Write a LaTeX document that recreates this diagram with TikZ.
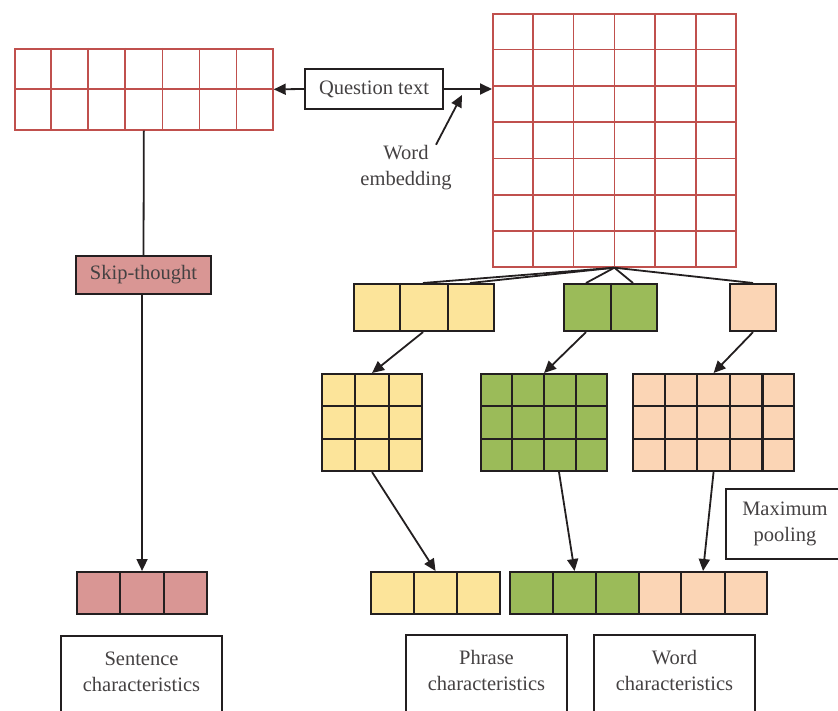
\documentclass[tikz,border=0pt]{standalone}
\usepackage{fontspec}
\setmainfont{Liberation Serif}
\usetikzlibrary{arrows.meta}
\usetikzlibrary{calc}

\definecolor{gridred}{HTML}{C0504D}
\definecolor{lineblack}{HTML}{231F20}
\definecolor{skippink}{HTML}{D99694}
\definecolor{phryellow}{HTML}{FCE49A}
\definecolor{wrdgreen}{HTML}{9BBB59}
\definecolor{wrdpeach}{HTML}{FBD5B5}

% inner lines of a block: node, columns, rows, line style
\newcommand{\gridin}[4]{%
  \ifnum#2>1 \foreach \i in {2,...,#2}{\draw[#4] ($(#1.north west)!{(\i-1)/#2}!(#1.north east)$) -- ($(#1.south west)!{(\i-1)/#2}!(#1.south east)$);}\fi
  \ifnum#3>1 \foreach \j in {2,...,#3}{\draw[#4] ($(#1.north west)!{(\j-1)/#3}!(#1.south west)$) -- ($(#1.north east)!{(\j-1)/#3}!(#1.south east)$);}\fi
}

\begin{document}
\begin{tikzpicture}[x=1pt,y=-1pt,
  embbox/.style={draw=gridred,line width=1.7pt,inner sep=0pt,anchor=north west},
  cellbox/.style={draw=lineblack,line width=2.1pt,inner sep=0pt,anchor=north west},
  textbox/.style={draw=lineblack,line width=1.9pt,inner sep=0pt,align=center,text=lineblack!85,font=\fontsize{20.5}{26}\selectfont},
  link/.style={lineblack,line width=1.8pt},
  arr/.style={link,-{Triangle[length=12pt,width=11pt]}}]
        \useasboundingbox (0,0) rectangle (838,711);
        \clip (0,0) rectangle (838,711);

        % embeddings
        \node[embbox,minimum width=258,minimum height=81] (embL) at (14,48) {};
        \node[embbox,minimum width=243,minimum height=253] (embR) at (492,13) {};
        \gridin{embL}{7}{2}{gridred,line width=1.7pt}
        \gridin{embR}{6}{7}{gridred,line width=1.7pt}
        \node[textbox,minimum width=138,minimum height=40] (question) at (374,89) {Question text};
        \node[textbox,draw=none] (wordemb) at (406,168) {Word\\embedding};
        \coordinate (embtip) at (462,95);

        % sentence branch
        \node[textbox,fill=skippink,minimum width=135,minimum height=38] (skip) at (143.5,275) {Skip-thought};
        \node[cellbox,fill=skippink,minimum width=130,minimum height=42] (sentvec) at (76,571) {};
        \gridin{sentvec}{3}{1}{lineblack,line width=2.1pt}

        % convolution windows
        \node[cellbox,fill=phryellow,minimum width=140,minimum height=47] (y1) at (353,283) {};
        \node[cellbox,fill=wrdgreen,minimum width=93,minimum height=47] (g1) at (563,283) {};
        \node[cellbox,fill=wrdpeach,minimum width=46,minimum height=47] (p1) at (729,283) {};
        \gridin{y1}{3}{1}{lineblack,line width=2.1pt}
        \gridin{g1}{2}{1}{lineblack,line width=2.1pt}

        % feature maps
        \node[cellbox,fill=phryellow,minimum width=100,minimum height=97] (y2) at (321,373) {};
        \node[cellbox,fill=wrdgreen,minimum width=126,minimum height=97] (g2) at (480,373) {};
        \node[cellbox,fill=wrdpeach,minimum width=161,minimum height=97] (p2) at (632,373) {};
        \gridin{y2}{3}{3}{lineblack,line width=2.1pt}
        \gridin{g2}{4}{3}{lineblack,line width=2.1pt}
        \gridin{p2}{5}{3}{lineblack,line width=2.1pt}

        % pooled vectors
        \node[cellbox,fill=phryellow,minimum width=129,minimum height=42] (y3) at (370,571) {};
        \node[cellbox,fill=wrdgreen,minimum width=129,minimum height=42] (g3) at (509,571) {};
        \node[cellbox,fill=wrdpeach,minimum width=128,minimum height=42] (p3) at (638,571) {};
        \gridin{y3}{3}{1}{lineblack,line width=2.1pt}
        \gridin{g3}{3}{1}{lineblack,line width=2.1pt}
        \gridin{p3}{3}{1}{lineblack,line width=2.1pt}
        \node[textbox,minimum width=118,minimum height=70,anchor=north west] (pool) at (725,488) {Maximum\\pooling};

        % output labels, cut by the page edge
        \node[textbox,draw=none,minimum width=159,minimum height=70,anchor=north] (sentbox) at (141.5,636) {Sentence\\characteristics};
        \node[textbox,draw=none,minimum width=159,minimum height=70,anchor=north] (phrbox) at (486.5,635) {Phrase\\characteristics};
        \node[textbox,draw=none,minimum width=159,minimum height=70,anchor=north] (wrdbox) at (674.5,635) {Word\\characteristics};
        \foreach \b in {sentbox,phrbox,wrdbox}
          \draw[lineblack,line width=1.9pt] ([yshift=-20]\b.south west) -- (\b.north west) -- (\b.north east) -- ([yshift=-20]\b.south east);

        % connectors
        \draw[arr] (question.west) -- (embL.east);
        \draw[arr] (question.east) -- (question.east -| embR.west);
        \draw[arr] ([xshift=30]wordemb.north) -- (embtip);
        \draw[link] (embL.south) -- (skip.north);
        \draw[arr] (sentvec.north |- skip.south) -- (sentvec.north);

        \draw[link] (embR.south) -- ([xshift=70]y1.north west);
        \draw[link] (embR.south) -- ([xshift=117]y1.north west);
        \draw[link] (embR.south) -- ([xshift=23]g1.north west);
        \draw[link] (embR.south) -- ([xshift=70]g1.north west);
        \draw[link] (embR.south) -- (p1.north);

        \draw[arr] ([xshift=70]y1.south west) -- (y2.north);
        \draw[arr] ([xshift=23]g1.south west) -- (g2.north);
        \draw[arr] (p1.south) -- (p2.north);

        \draw[arr] (y2.south) -- (y3.north);
        \draw[arr] ([xshift=79]g2.south west) -- (g3.north);
        \draw[arr] (p2.south) -- (p3.north);
\end{tikzpicture}
\end{document}
